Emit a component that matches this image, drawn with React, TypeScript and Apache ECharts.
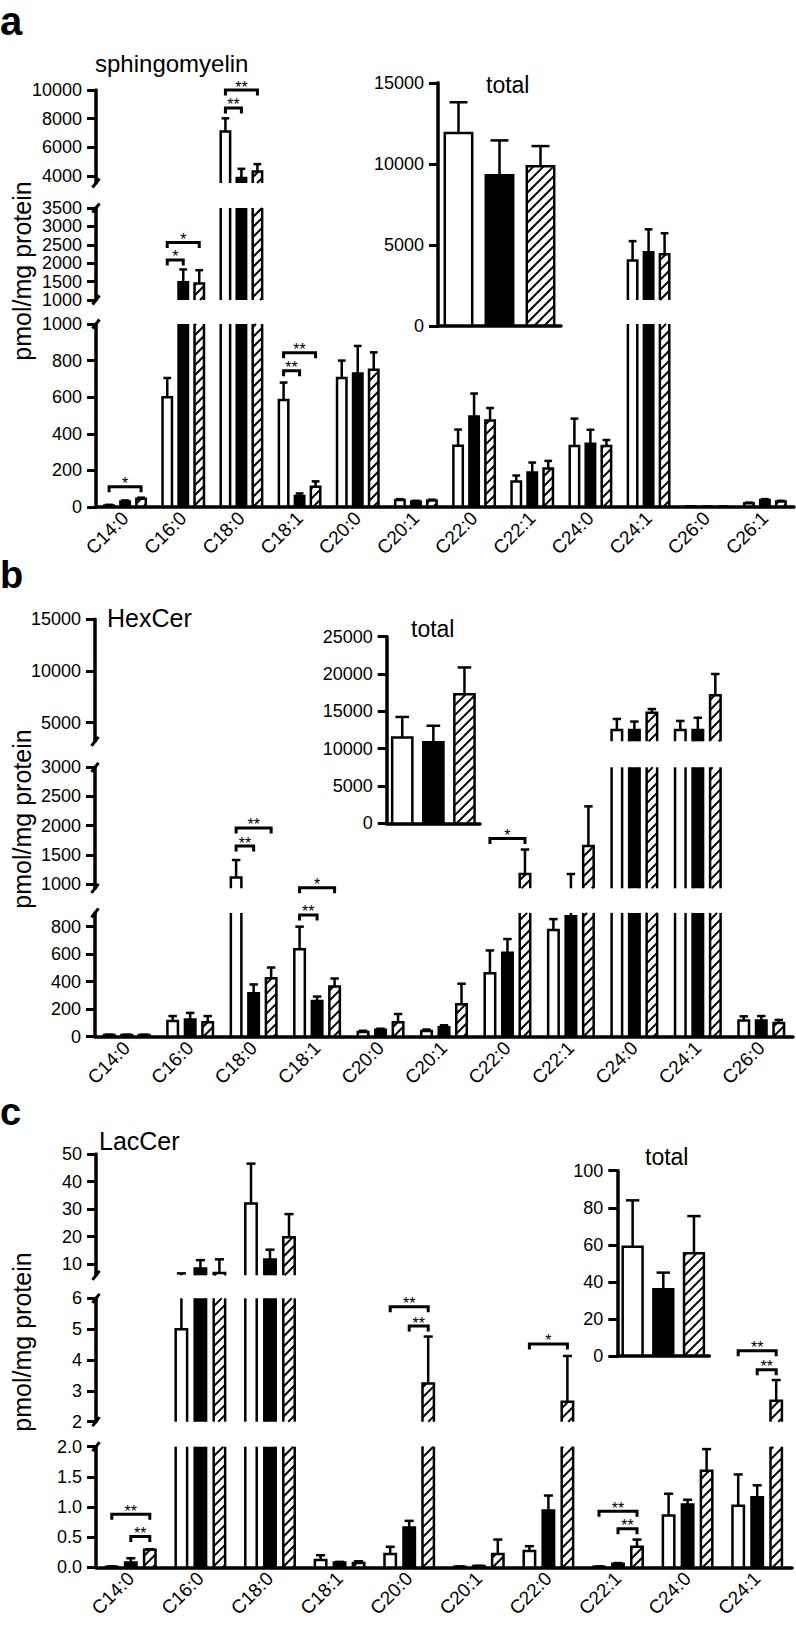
import React, { useEffect, useRef } from 'react';
import * as echarts from 'echarts';

// ====================== DATA ======================
// Panel a – sphingomyelin (bars: open, filled, hatched; values = mean, err = upper error)
const smCategories = ['C14:0', 'C16:0', 'C18:0', 'C18:1', 'C20:0', 'C20:1', 'C22:0', 'C22:1', 'C24:0', 'C24:1', 'C26:0', 'C26:1'];
const smOpen = [8, 600, 7100, 585, 705, 38, 335, 140, 333, 2070, 3, 20];
const smOpenErr = [4, 105, 920, 95, 95, 5, 88, 32, 150, 530, 1, 4];
const smFilled = [30, 1480, 3850, 60, 730, 30, 495, 188, 345, 2300, 2, 38];
const smFilledErr = [6, 350, 640, 14, 150, 4, 125, 55, 77, 620, 1, 5];
const smHatched = [45, 1450, 4300, 110, 750, 36, 473, 210, 333, 2245, 2, 30];
const smHatchedErr = [6, 360, 520, 30, 95, 4, 68, 42, 33, 570, 1, 4];
const smSegments = [[3500, 10000], [1000, 3500], [0, 1000]];
const smTicks = [[4000, 6000, 8000, 10000], [1000, 1500, 2000, 2500, 3000, 3500], [0, 200, 400, 600, 800, 1000]];
const smTotal = [11900, 9300, 9850];
const smTotalErr = [1900, 2150, 1250];
const smTotalTicks = [0, 5000, 10000, 15000];
// [category, fromBar, toBar, value, segment, label]
const smBrackets = [
  [0, 0, 2, 110, 2, '*'],
  [1, 0, 1, 2090, 1, '*'],
  [1, 0, 2, 2560, 1, '*'],
  [2, 0, 1, 8750, 0, '**'],
  [2, 0, 2, 10000, 0, '**'],
  [3, 0, 1, 745, 2, '**'],
  [3, 0, 2, 843, 2, '**'],
];

// Panel b – HexCer
const hcCategories = ['C14:0', 'C16:0', 'C18:0', 'C18:1', 'C20:0', 'C20:1', 'C22:0', 'C22:1', 'C24:0', 'C24:1', 'C26:0'];
const hcOpen = [12, 115, 1110, 635, 35, 42, 462, 775, 4300, 4300, 118];
const hcOpenErr = [3, 35, 300, 165, 8, 10, 165, 80, 1060, 870, 30];
const hcFilled = [12, 125, 315, 260, 50, 68, 610, 875, 4300, 4300, 118];
const hcFilledErr = [3, 48, 65, 32, 8, 15, 100, 295, 810, 1180, 32];
const hcHatched = [12, 105, 425, 365, 105, 235, 1170, 1650, 5950, 7650, 100];
const hcHatchedErr = [3, 45, 78, 58, 60, 150, 420, 680, 370, 2060, 22];
const hcSegments = [[3200, 15000], [925, 3000], [0, 900]];
const hcTicks = [[5000, 10000, 15000], [1000, 1500, 2000, 2500, 3000], [0, 200, 400, 600, 800]];
const hcTotal = [11500, 10850, 17300];
const hcTotalErr = [2750, 2220, 3580];
const hcTotalTicks = [0, 5000, 10000, 15000, 20000, 25000];
const hcBrackets = [
  [2, 0, 1, 1650, 1, '**'],
  [2, 0, 2, 1960, 1, '**'],
  [3, 0, 1, 885, 2, '**'],
  [3, 0, 2, 935, 1, '*'],
  [6, 0, 2, 1780, 1, '*'],
];

// Panel c – LacCer
const lcCategories = ['C14:0', 'C16:0', 'C18:0', 'C18:1', 'C20:0', 'C20:1', 'C22:0', 'C22:1', 'C24:0', 'C24:1'];
const lcOpen = [0.01, 5.0, 32, 0.12, 0.22, 0.01, 0.27, 0.01, 0.86, 1.02];
const lcOpenErr = [0.005, 1.7, 14.5, 0.08, 0.12, 0.005, 0.08, 0.005, 0.36, 0.52];
const lcFilled = [0.08, 8.5, 11.7, 0.08, 0.66, 0.02, 0.94, 0.06, 1.04, 1.16];
const lcFilledErr = [0.07, 3.0, 3.6, 0.01, 0.11, 0.005, 0.25, 0.01, 0.08, 0.2];
const lcHatched = [0.29, 6.8, 19.8, 0.07, 3.24, 0.22, 2.65, 0.34, 1.6, 2.68];
const lcHatchedErr = [0.01, 5.0, 8.4, 0.03, 1.52, 0.24, 1.48, 0.12, 0.36, 0.67];
const lcSegments = [[6, 50], [2, 6], [0, 2]];
const lcTicks = [[10, 20, 30, 40, 50], [2, 3, 4, 5, 6], [0, 0.5, 1, 1.5, 2]];
const lcTotal = [59, 36, 55.5];
const lcTotalErr = [25, 9, 20];
const lcTotalTicks = [0, 20, 40, 60, 80, 100];
const lcBrackets = [
  [0, 0, 2, 0.88, 2, '**'],
  [0, 1, 2, 0.51, 2, '**'],
  [4, 0, 2, 5.73, 1, '**'],
  [4, 1, 2, 5.1, 1, '**'],
  [6, 0, 2, 4.52, 1, '*'],
  [7, 0, 2, 0.93, 2, '**'],
  [7, 1, 2, 0.64, 2, '**'],
  [9, 0, 2, 4.3, 1, '**'],
  [9, 1, 2, 3.68, 1, '**'],
];

// ====================== STYLE / LAYOUT ======================
const FONT = '"Liberation Sans", Arial, Helvetica, sans-serif';
const BLACK = '#000';
const SW = 2.5; // bar outline
const EW = 2.5; // error bar
const AXW = 3.5; // axis lines
const HATCH = 10;
const TICK_FONT = 18;
const XLABEL_FONT = 19;
const STAR_FONT = 16;

type Panel = {
  categories: string[];
  vals: number[][];
  errs: number[][];
  segments: number[][];
  ticks: number[][];
  total: number[];
  totalErr: number[];
  totalTicks: number[];
  brackets: any[][];
  bottomDecimals: number;
};
type Layout = {
  left: number;
  right: number;
  segY: number[][];
  inset: { left: number; top: number; right: number; bottom: number };
  gap: number;
  width: number;
};

const panelA: Panel = {
  categories: smCategories,
  vals: [smOpen, smFilled, smHatched],
  errs: [smOpenErr, smFilledErr, smHatchedErr],
  segments: smSegments, ticks: smTicks,
  total: smTotal, totalErr: smTotalErr, totalTicks: smTotalTicks,
  brackets: smBrackets, bottomDecimals: 0,
};
const panelB: Panel = {
  categories: hcCategories,
  vals: [hcOpen, hcFilled, hcHatched],
  errs: [hcOpenErr, hcFilledErr, hcHatchedErr],
  segments: hcSegments, ticks: hcTicks,
  total: hcTotal, totalErr: hcTotalErr, totalTicks: hcTotalTicks,
  brackets: hcBrackets, bottomDecimals: 0,
};
const panelC: Panel = {
  categories: lcCategories,
  vals: [lcOpen, lcFilled, lcHatched],
  errs: [lcOpenErr, lcFilledErr, lcHatchedErr],
  segments: lcSegments, ticks: lcTicks,
  total: lcTotal, totalErr: lcTotalErr, totalTicks: lcTotalTicks,
  brackets: lcBrackets, bottomDecimals: 1,
};

const layoutA: Layout = {
  left: 96, right: 794,
  segY: [[90, 183], [208, 300], [324, 507]],
  inset: { left: 438, top: 82.8, right: 561, bottom: 326.2 },
  gap: 0.275, width: 0.205,
};
const layoutB: Layout = {
  left: 95, right: 793,
  segY: [[619.3, 741.3], [767.3, 888.3], [912.9, 1036.7]],
  inset: { left: 386.7, top: 636.7, right: 480, bottom: 823.3 },
  gap: 0.276, width: 0.205,
};
const layoutC: Layout = {
  left: 96, right: 792,
  segY: [[1154, 1275.3], [1298.3, 1421.7], [1446.7, 1567.3]],
  inset: { left: 617.3, top: 1170.7, right: 709.3, bottom: 1356 },
  gap: 0.273, width: 0.2,
};

// ====================== DRAW HELPERS ======================
function drawBar(kids: any[], yOf: (v: number) => number, bx: number, outerW: number, v: number, e: number,
  kind: number, smin: number, smax: number, capFrac: number) {
  const half = outerW / 2 - SW / 2;
  const xL = bx - half;
  const xR = bx + half;
  if (v > smin) {
    const lo = Math.max(0, smin);
    const hi = Math.min(v, smax);
    const yB = yOf(lo);
    const yT = yOf(hi);
    kids.push({
      type: 'rect',
      shape: { x: xL, y: yT, width: xR - xL, height: yB - yT },
      style: { fill: kind === 1 ? BLACK : '#fff' },
    });
    if (kind === 2) {
      const d = HATCH;
      const cStart = Math.ceil((xL + yT) / d) * d;
      for (let c = cStart; c <= xR + yB; c += d) {
        const xa = Math.max(xL, c - yB);
        const xb = Math.min(xR, c - yT);
        if (xb > xa) {
          kids.push({
            type: 'line',
            shape: { x1: xa, y1: c - xa, x2: xb, y2: c - xb },
            style: { stroke: BLACK, lineWidth: 2 },
          });
        }
      }
    }
    if (v <= smax) {
      kids.push({
        type: 'polyline',
        shape: { points: [[xL, yB], [xL, yT], [xR, yT], [xR, yB]] },
        style: { stroke: BLACK, lineWidth: SW, fill: 'none', lineJoin: 'miter' },
      });
    } else {
      kids.push({ type: 'line', shape: { x1: xL, y1: yB, x2: xL, y2: yT }, style: { stroke: BLACK, lineWidth: SW } });
      kids.push({ type: 'line', shape: { x1: xR, y1: yB, x2: xR, y2: yT }, style: { stroke: BLACK, lineWidth: SW } });
    }
  }
  const et = v + e;
  const a = Math.max(v, smin);
  const b = Math.min(et, smax);
  if (b > a) {
    kids.push({ type: 'line', shape: { x1: bx, y1: yOf(a), x2: bx, y2: yOf(b) }, style: { stroke: BLACK, lineWidth: EW } });
  }
  if (et >= smin && et <= smax) {
    const cw = outerW * capFrac / 2;
    const yc = yOf(et);
    kids.push({ type: 'line', shape: { x1: bx - cw, y1: yc, x2: bx + cw, y2: yc }, style: { stroke: BLACK, lineWidth: EW } });
  }
}

function yAxisCfg(gi: number, min: number, max: number, ticks: number[], decimals: number) {
  return {
    type: 'value', gridIndex: gi, min, max, z: 3,
    axisLine: { show: true, onZero: false, lineStyle: { color: BLACK, width: AXW } },
    axisTick: { show: true, length: 9, customValues: ticks, lineStyle: { color: BLACK, width: 3 } },
    axisLabel: {
      show: true, customValues: ticks, margin: 14, color: BLACK, fontSize: TICK_FONT, fontFamily: FONT,
      hideOverlap: false,
      showMinLabel: true, showMaxLabel: true,
      formatter: (v: number) => (decimals ? v.toFixed(decimals) : String(Math.round(v))),
    },
    splitLine: { show: false },
  };
}

function addPanel(P: Panel, L: Layout, option: any) {
  const nSeg = P.segments.length;
  P.segments.forEach((rng, s) => {
    const gi = option.grid.length;
    const [smin, smax] = rng;
    const isBottom = s === nSeg - 1;
    const isTop = s === 0;
    option.grid.push({
      left: L.left, top: L.segY[s][0], width: L.right - L.left, height: L.segY[s][1] - L.segY[s][0],
      containLabel: false, outerBoundsMode: 'none',
    });
    option.xAxis.push({
      type: 'category', gridIndex: gi, data: P.categories, show: isBottom, z: 3,
      axisLine: { show: true, onZero: false, lineStyle: { color: BLACK, width: AXW } },
      axisTick: { show: false },
      axisLabel: {
        show: true, interval: 0, rotate: 45, margin: 8, color: BLACK, fontSize: XLABEL_FONT, fontFamily: FONT,
        hideOverlap: false,
      },
      splitLine: { show: false },
    });
    option.yAxis.push(yAxisCfg(gi, smin, smax, P.ticks[s], isBottom ? P.bottomDecimals : 0));

    option.series.push({
      type: 'custom', xAxisIndex: gi, yAxisIndex: gi, clip: false, silent: true, z: 1,
      data: P.categories.map((_, i) => [i, 0]),
      renderItem: (params: any, api: any) => {
        const ci = api.value(0);
        const band = api.size([1, 0])[0];
        const cx = api.coord([ci, smin])[0];
        const yOf = (v: number) => api.coord([ci, v])[1];
        const kids: any[] = [];
        for (let k = 0; k < 3; k++) {
          const bx = cx + (k - 1) * band * L.gap;
          drawBar(kids, yOf, bx, band * L.width, P.vals[k][ci], P.errs[k][ci], k, smin, smax, 0.65);
        }
        if (params.dataIndex === 0) {
          const cs = params.coordSys;
          const marks: number[] = [];
          if (!isTop) marks.push(cs.y);
          if (!isBottom) marks.push(cs.y + cs.height);
          marks.forEach((ym) => {
            kids.push({
              type: 'line',
              shape: { x1: cs.x - 3.5, y1: ym + 4.5, x2: cs.x + 3.5, y2: ym - 4.5 },
              style: { stroke: BLACK, lineWidth: 3 },
            });
          });
        }
        return { type: 'group', children: kids };
      },
    });

    const br = P.brackets.filter((b) => b[4] === s);
    if (br.length) {
      option.series.push({
        type: 'custom', xAxisIndex: gi, yAxisIndex: gi, clip: false, silent: true, z: 1,
        data: br.map((b) => [b[0], b[3]]),
        renderItem: (params: any, api: any) => {
          const b = br[params.dataIndex];
          const band = api.size([1, 0])[0];
          const p = api.coord([b[0], b[3]]);
          const x1 = p[0] + (b[1] - 1) * band * L.gap;
          const x2 = p[0] + (b[2] - 1) * band * L.gap;
          const y = p[1];
          return {
            type: 'group',
            children: [
              {
                type: 'polyline',
                shape: { points: [[x1, y + 5.5], [x1, y], [x2, y], [x2, y + 5.5]] },
                style: { stroke: BLACK, lineWidth: 3, fill: 'none' },
              },
              {
                type: 'text', x: (x1 + x2) / 2, y: y - 3,
                style: { text: b[5], fill: BLACK, font: `${STAR_FONT}px ${FONT}`, align: 'center', verticalAlign: 'middle' },
              },
            ],
          };
        },
      });
    }
  });

  // inset "total"
  const gi = option.grid.length;
  const I = L.inset;
  option.grid.push({
    left: I.left, top: I.top, width: I.right - I.left, height: I.bottom - I.top,
    containLabel: false, outerBoundsMode: 'none',
  });
  option.xAxis.push({
    type: 'category', gridIndex: gi, data: ['1', '2', '3'], z: 3,
    axisLine: { show: true, onZero: false, lineStyle: { color: BLACK, width: AXW } },
    axisTick: { show: false }, axisLabel: { show: false }, splitLine: { show: false },
  });
  const tt = P.totalTicks;
  option.yAxis.push(yAxisCfg(gi, tt[0], tt[tt.length - 1], tt, 0));
  option.series.push({
    type: 'custom', xAxisIndex: gi, yAxisIndex: gi, clip: false, silent: true, z: 1,
    data: P.total.map((_, i) => [i, 0]),
    renderItem: (params: any, api: any) => {
      const ci = api.value(0);
      const band = api.size([1, 0])[0];
      const cx = api.coord([ci, 0])[0];
      const yOf = (v: number) => api.coord([ci, v])[1];
      const kids: any[] = [];
      drawBar(kids, yOf, cx, band * 0.73, P.total[ci], P.totalErr[ci], ci, 0, tt[tt.length - 1], 0.6);
      return { type: 'group', children: kids };
    },
  });
}

function txt(text: string, x: number, y: number, size: number, opts: any = {}) {
  return {
    type: 'text', x, y, rotation: opts.rotation || 0, silent: true,
    style: {
      text, fill: BLACK,
      font: `${opts.bold ? 'bold ' : ''}${size}px ${FONT}`,
      align: opts.align || 'left', verticalAlign: 'middle',
    },
  };
}

function buildOption() {
  const option: any = {
    animation: false,
    backgroundColor: '#fff',
    grid: [], xAxis: [], yAxis: [], series: [],
  };
  addPanel(panelA, layoutA, option);
  addPanel(panelB, layoutB, option);
  addPanel(panelC, layoutC, option);
  option.graphic = [
    txt('a', 0, 21, 40, { bold: true }),
    txt('sphingomyelin', 95, 63, 24),
    txt('total', 486, 85, 23),
    txt('pmol/mg protein', 22, 271, 25, { rotation: Math.PI / 2, align: 'center' }),
    txt('b', 0, 575, 38, { bold: true }),
    txt('HexCer', 107, 618, 25),
    txt('total', 411, 629, 23),
    txt('pmol/mg protein', 22, 819, 25, { rotation: Math.PI / 2, align: 'center' }),
    txt('c', 0, 1112, 38, { bold: true }),
    txt('LacCer', 99, 1141, 25),
    txt('total', 645, 1157, 23),
    txt('pmol/mg protein', 22, 1342, 25, { rotation: Math.PI / 2, align: 'center' }),
  ];
  return option;
}

export default function App() {
  const ref = useRef<HTMLDivElement>(null);
  useEffect(() => {
    if (!ref.current) return;
    const chart = echarts.init(ref.current, undefined, { renderer: 'svg' });
    chart.setOption(buildOption());
    return () => chart.dispose();
  }, []);
  return (
    <div
      ref={ref}
      style={{ position: 'absolute', left: 0, top: 0, width: 796, height: 1627, background: '#fff' }}
    />
  );
}
